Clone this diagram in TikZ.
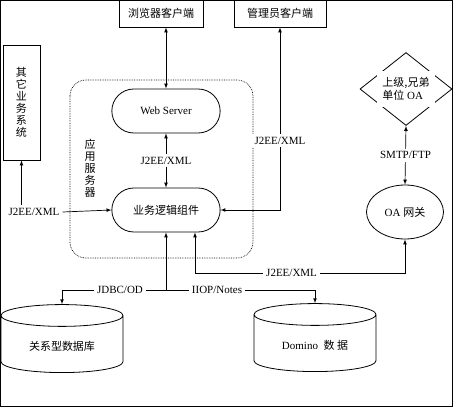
\documentclass[tikz,border=0pt]{standalone}
\usepackage{fontspec}
\setmainfont{Liberation Serif}
\newfontfamily\cjk{Noto Sans CJK SC}
\usepackage{tikz}
\usetikzlibrary{arrows,shapes.geometric,shapes.misc}
\tikzstyle{link} = [line width=0.7pt,->,>=latex]
\tikzstyle{twoway} = [line width=0.7pt,<->,>=latex]
\tikzstyle{wire} = [line width=0.7pt]
\tikzstyle{box} = [draw, line width=0.8pt, inner sep=2pt]
\tikzstyle{pill} = [draw, rounded rectangle, line width=0.8pt, minimum width=115pt, minimum height=44pt]
\tikzstyle{db} = [draw, cylinder, shape border rotate=90, aspect=0.3, line width=0.8pt, minimum width=122pt, minimum height=68pt]
\tikzstyle{vtext} = [align=center, font=\fontsize{11}{12}\selectfont\cjk]
\tikzstyle{lbl} = [fill=white, inner sep=3pt]

\begin{document}
\begin{tikzpicture}[x=1pt,y=-1pt,font=\fontsize{11}{13}\selectfont]
\useasboundingbox (0,0) rectangle (453,407);
\draw [line width=1pt] (0.5,0.5) rectangle (452.5,406);

% clients
\node (browser) [box, minimum width=84pt, minimum height=27pt] at (161,13.5) {\cjk 浏览器客户端};
\node (admin) [box, minimum width=92pt, minimum height=27pt] at (280,13.5) {\cjk 管理员客户端};
\node (other) [box, vtext, minimum width=37pt, minimum height=115pt] at (21.5,102.5) {其\\它\\业\\务\\系\\统};

% application server
\draw [densely dotted, line width=0.7pt, rounded corners=16pt] (70,80) rectangle (253,258);
\node (appsrv) [vtext] at (90,168) {应\\用\\服\\务\\器};
\node (web) [pill] at (166,111) {Web Server};
\node (logic) [pill, below of=web, node distance=99pt] {\cjk 业务逻辑组件};

% remote side
\node (peer) [draw, diamond, minimum width=92pt, minimum height=73pt, inner sep=0pt, line width=0.8pt] at (406,89) {};
\node (peertext) [fill=white, align=left, inner sep=1pt, minimum width=58pt, minimum height=36pt] at (peer) {{\cjk 上级,兄弟}\\{\cjk 单位} OA};
\node (gateway) [draw, ellipse, minimum width=77pt, minimum height=54pt, line width=0.8pt] at (405,212) {OA {\cjk 网关}};

% databases
\node (rdb) [db] at (62,346) {\cjk 关系型数据库};
\node (domino) [db] at (315,345) {Domino~~{\cjk 数~据}};

% labels
\node (lblother) [lbl] at (34,212) {J2EE/XML};
\node (lbljdbc) [lbl] at (120,290) {JDBC/OD};
\node (lbliiop) [lbl] at (217,290) {IIOP/Notes};

% connectors
\draw [twoway] (web.north |- browser.south) -- (web.north);
\draw [twoway] (web.south) -- node[lbl] {J2EE/XML} (logic.north);
\draw [twoway] (admin.south) -- node[lbl, pos=0.62] {J2EE/XML} (admin.south |- logic.east) -- (logic.east);
\draw [link] (other.south |- lblother.north) -- (other.south);
\draw [link] (lblother.east) -- (logic.west);
\draw [link] (logic.south |- lbljdbc) -- (logic.south);
\draw [link] (lbljdbc.west) -| (rdb.north);
\draw [wire] (lbljdbc.east) -- (lbliiop.west);
\draw [link] (lbliiop.east) -| (domino.north);
\draw [twoway] ([xshift=29pt]logic.south) -- ++(0,41) -| node[lbl, pos=0.23] {J2EE/XML} (gateway.south);
\draw [twoway] (peer.south) -- node[lbl] {SMTP/FTP} (gateway.north);
\end{tikzpicture}
\end{document}
